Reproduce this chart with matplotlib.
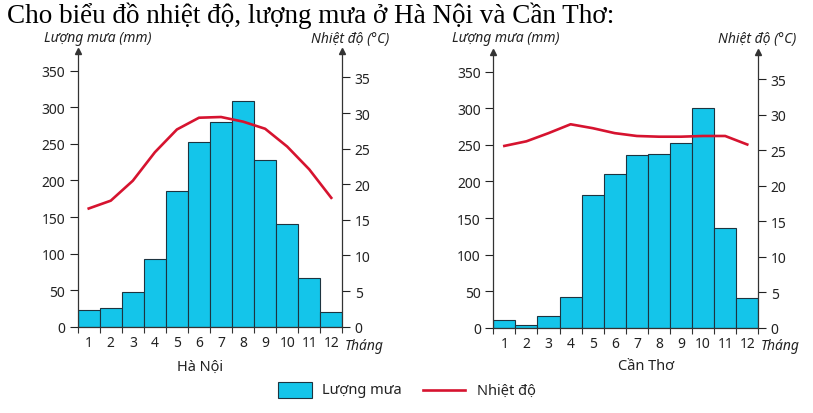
import matplotlib
matplotlib.use("Agg")
import matplotlib.pyplot as plt
from matplotlib.patches import Rectangle
from matplotlib.lines import Line2D
import numpy as np

months = list(range(1, 13))
month_labels = [str(m) for m in months]
hn_rain = [23, 25, 47, 92, 185, 253, 280, 309, 228, 140, 66, 20]
hn_temp = [16.6, 17.7, 20.5, 24.5, 27.7, 29.35, 29.45, 28.8, 27.8, 25.3, 22.1, 18.1]
ct_rain = [10, 4, 16, 42, 181, 210, 236, 238, 252, 301, 137, 41]
ct_temp = [25.6, 26.25, 27.4, 28.65, 28.1, 27.4, 27.0, 26.9, 26.9, 27.0, 27.0, 25.8]
rain_ticks = [0, 50, 100, 150, 200, 250, 300, 350]
temp_ticks = [0, 5, 10, 15, 20, 25, 30, 35]
cities = ["Hà Nội", "Cần Thơ"]

W, H = 813, 414
FONT = ["Noto Sans", "DejaVu Sans"]
plt.rcParams['font.family'] = FONT
BAR = "#14c5ea"
EDGE = "#1d3440"
RED = "#d6132f"

fig = plt.figure(figsize=(W / 100, H / 100), dpi=100)
fig.patch.set_facecolor("white")

def px(x, y):
    return x / W, 1 - y / H

def make_panel(x0, x1, y0, ytop, rain, temp, city, city_x, ymax_r, ymax_t, lab_l, lab_r):
    ax = fig.add_axes([x0 / W, 1 - y0 / H, (x1 - x0) / W, (y0 - ytop) / H])
    ax.set_facecolor("none")
    ax.bar(months, rain, width=1.0, color=BAR, edgecolor=EDGE, linewidth=0.8, zorder=2)
    ax.set_xlim(0.5, 12.5)
    ax.set_ylim(0, ymax_r)
    ax.set_yticks(rain_ticks)
    ax.set_xticks(months)
    ax.set_xticklabels(month_labels)
    ax.set_xticks(np.arange(0.5, 13, 1), minor=True)
    ax.tick_params(axis='x', which='major', length=0, pad=6, labelsize=10, colors="#222222")
    ax.tick_params(axis='x', which='minor', length=4, width=0.8, direction='out', color="#333333")
    ax.tick_params(axis='y', length=6, width=0.8, pad=3, labelsize=10, colors="#222222")
    ax.spines['top'].set_visible(False)
    ax.spines['right'].set_visible(False)
    for s in ['left', 'bottom']:
        ax.spines[s].set_linewidth(0.9)
        ax.spines[s].set_color("#333333")
    ax.plot([0], [1.0], marker='^', markersize=4.5, color="#333333", transform=ax.transAxes, clip_on=False)

    ax2 = ax.twinx()
    ax2.plot(months, temp, color=RED, linewidth=1.9, zorder=3)
    ax2.set_ylim(0, ymax_t)
    ax2.set_yticks(temp_ticks)
    ax2.tick_params(axis='y', length=6, width=0.8, pad=3, labelsize=10, colors="#222222")
    ax2.spines['top'].set_visible(False)
    ax2.spines['left'].set_visible(False)
    ax2.spines['bottom'].set_visible(False)
    ax2.spines['right'].set_linewidth(0.9)
    ax2.spines['right'].set_color("#333333")
    ax2.plot([1], [1.0], marker='^', markersize=4.5, color="#333333", transform=ax2.transAxes, clip_on=False)

    fx, fy = px(x1 + 2, 350)
    fig.text(fx, fy, "Tháng", fontsize=10, style='italic', ha='left', va='baseline', color="#222222")
    fx, fy = px(city_x, 367)
    fig.text(fx, fy, city, fontsize=10.5, ha='center', va='center', color="#222222")
    fx, fy = px(lab_l, 39)
    fig.text(fx, fy, "Lượng mưa (mm)", fontsize=10, style='italic', ha='left', va='center', color="#222222")
    fx, fy = px(lab_r, 39)
    fig.text(fx, fy, "Nhiệt độ (°C)", fontsize=10, style='italic', ha='right', va='center', color="#222222")

make_panel(77.7, 342.3, 327.7, 52, hn_rain, hn_temp, cities[0], 200.5, 377, 38.72, 44, 389)
make_panel(493.3, 758.3, 328.7, 52.7, ct_rain, ct_temp, cities[1], 646, 377.4, 38.87, 452, 796)

# title
fx, fy = px(7, 23)
fig.text(fx, fy, "Cho biểu đồ nhiệt độ, lượng mưa ở Hà Nội và Cần Thơ:", fontsize=19.5,
         family=["Liberation Serif", "DejaVu Serif"], ha='left', va='baseline', color="black")

# legend
fig.patches.append(Rectangle(px(278, 399), 34 / W, 16 / H, transform=fig.transFigure,
                             facecolor=BAR, edgecolor=EDGE, linewidth=0.8))
fx, fy = px(322, 391)
fig.text(fx, fy, "Lượng mưa", fontsize=10.5, ha='left', va='center', color="#222222")
fig.lines.append(Line2D([423 / W, 465 / W], [1 - 391 / H, 1 - 391 / H], transform=fig.transFigure,
                        color=RED, linewidth=1.9))
fx, fy = px(477, 391)
fig.text(fx, fy, "Nhiệt độ", fontsize=10.5, ha='left', va='center', color="#222222")

fig.savefig("out.png", dpi=100)
